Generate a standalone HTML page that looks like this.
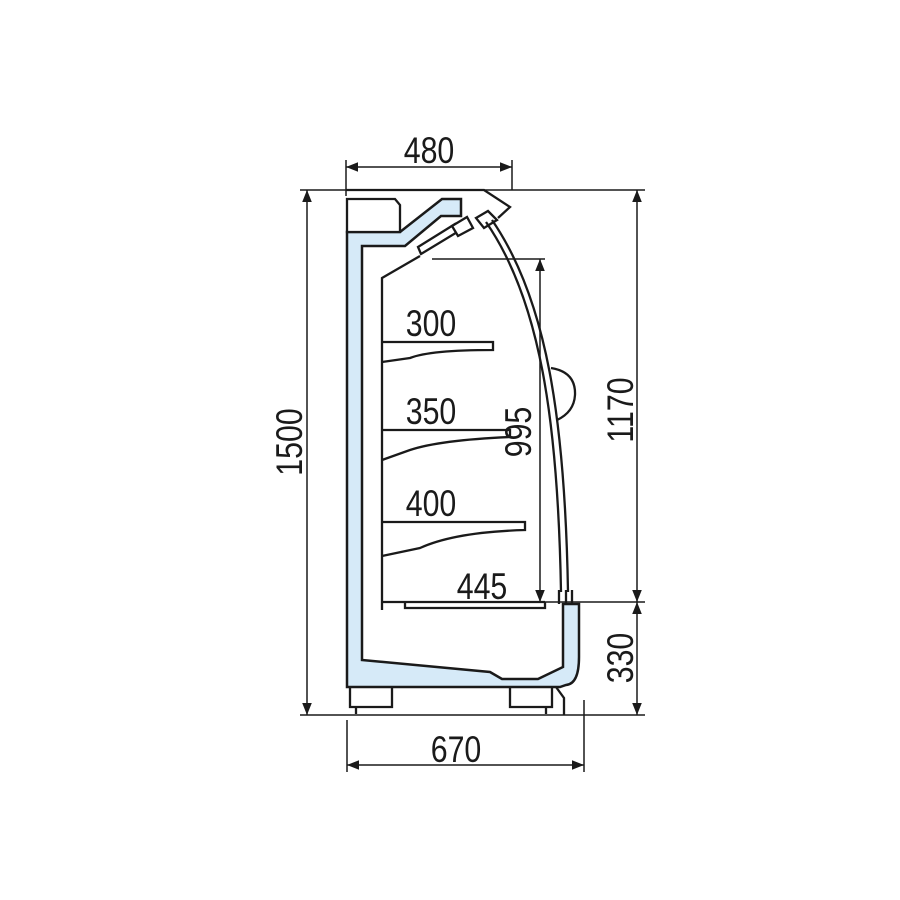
<!DOCTYPE html>
<html><head><style>
html,body{margin:0;padding:0;background:#fff;}
svg{display:block}
text{font-family:"Liberation Sans",sans-serif;font-size:37px;fill:#1a1a1a;}
</style></head><body>
<svg width="900" height="900" viewBox="0 0 900 900" xmlns="http://www.w3.org/2000/svg">
<defs>
<marker id="a" viewBox="0 0 10 10" refX="10" refY="5" markerWidth="8" markerHeight="8" orient="auto-start-reverse"><path d="M0,1 L10,5 L0,9 z" fill="#1a1a1a"/></marker>
</defs>
<g stroke="#1a1a1a" fill="none" stroke-width="2.3">
<path d="M347,232 L400,232 L442,199 L461,199 L461,216 L441,216 L405,246 L362,246 L362,660 L490,672 L502,679 L538,679 L563,667 L563,604 L579,604 L579,657 Q579,684 566,685 L560,687 L347,687 Z" fill="#d6eaf8" stroke-width="2.5"/>
<path d="M347,199 L395,199 L400,205 L400,232 L347,232 Z" fill="#fff"/>
<path d="M346,190 L484,190 L510,207 L498,218"/>
<path d="M418,247 L455,224 L459,231 L421,254 Z" fill="#fff"/>
<path d="M452,226 L467,217 L473,228 L458,236 Z" fill="#fff"/>
<path d="M476,218 L488,211 L497,220 L484,228 Z" fill="#fff"/>
<path d="M382,610 L382,278 L420,256"/>
<path d="M382,342 L493,342 L493,350 Q430,350 410,358 L382,362"/>
<path d="M382,430 L510,430 L510,437 Q440,440 410,450 L382,460"/>
<path d="M382,522 L525,522 L525,530 Q455,532 420,548 L382,556"/>
<path d="M382,602 L545,602 M405,602 L405,608 L545,608 L545,602"/>
<path d="M486,222 C540,300 558,420 561,592"/>
<path d="M492,220 C547,300 565,420 568,592"/>
<path d="M551,368 Q576,372 575,395 Q574,412 557,420"/>
<path d="M559,590 L559,604 M566,590 L566,604 M572,590 L572,604"/>
<path d="M350,687 L350,707 L392,707 L392,687"/>
<path d="M510,687 L510,707 L552,707 L552,687"/>
<path d="M356,707 L356,714 M546,707 L546,714"/>
<path d="M556,687 L564,698 L564,715"/>
<g stroke-width="1.5">
<path d="M300,190 L645,190 M545,602 L645,602 M300,715 L645,715 M346,160 L346,196 M512,160 L512,190 M347,720 L347,772 M584,700 L584,772 M432,259 L545,259"/>
<path d="M346,167 L512,167" marker-start="url(#a)" marker-end="url(#a)"/>
<path d="M307,190 L307,715" marker-start="url(#a)" marker-end="url(#a)"/>
<path d="M637,190 L637,602" marker-start="url(#a)" marker-end="url(#a)"/>
<path d="M637,602 L637,715" marker-start="url(#a)" marker-end="url(#a)"/>
<path d="M347,765 L584,765" marker-start="url(#a)" marker-end="url(#a)"/>
<path d="M540,259 L540,602" marker-start="url(#a)" marker-end="url(#a)"/>
</g>
</g>
<g text-anchor="middle">
<text transform="translate(429,163) scale(0.82,1)">480</text>
<text transform="translate(456,762) scale(0.82,1)">670</text>
<text transform="translate(431,336) scale(0.82,1)">300</text>
<text transform="translate(431,424) scale(0.82,1)">350</text>
<text transform="translate(431,516) scale(0.82,1)">400</text>
<text transform="translate(482,599) scale(0.82,1)">445</text>
<text transform="translate(302,442) rotate(-90) scale(0.82,1)">1500</text>
<text transform="translate(633,410) rotate(-90) scale(0.82,1)">1170</text>
<text transform="translate(633,658) rotate(-90) scale(0.82,1)">330</text>
<text transform="translate(531,432) rotate(-90) scale(0.82,1)">995</text>
</g>
</svg>
</body></html>
